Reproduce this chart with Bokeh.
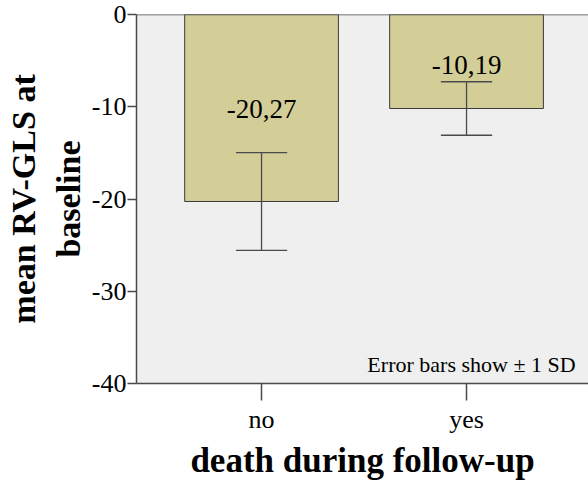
from bokeh.plotting import figure
from bokeh.models import FixedTicker, Range1d, Span, Label, ColumnDataSource
from bokeh.embed import file_html
from bokeh.resources import INLINE
from bokeh.core.properties import value

categories = ["no", "yes"]
means = [-20.27, -10.19]
sds = [5.3, 2.9]
mean_labels = ["-20,27", "-10,19"]
label_y = [-10.2, -5.5]
y_ticks = [0, -10, -20, -30, -40]

FONT = "'Liberation Serif'"
xpos = [1, 2]
cap = 0.125
src = ColumnDataSource(dict(
    x=xpos, top=[0, 0], bottom=means,
    upper=[m + s for m, s in zip(means, sds)],
    lower=[m - s for m, s in zip(means, sds)],
    x0=[x - cap for x in xpos], x1=[x + cap for x in xpos],
    lab=mean_labels, laby=label_y,
))

p = figure(width=588, height=483, output_backend="svg", toolbar_location=None,
           x_range=Range1d(0.39, 2.595), y_range=Range1d(-40, 0),
           min_border_left=136, min_border_right=0, min_border_top=14, min_border_bottom=100)
p.background_fill_color = "#efefef"
p.border_fill_color = "white"
p.outline_line_color = None
p.grid.visible = False

p.vbar(x="x", top="top", bottom="bottom", width=0.75, source=src,
       fill_color="#d3ce97", line_color="#3a3a3a", line_width=1)

ec = "#4a4a4a"
p.segment(x0="x", y0="upper", x1="x", y1="lower", source=src, line_color=ec, line_width=1.3)
p.segment(x0="x0", y0="upper", x1="x1", y1="upper", source=src, line_color=ec, line_width=1.3)
p.segment(x0="x0", y0="lower", x1="x1", y1="lower", source=src, line_color=ec, line_width=1.3)

p.text(x="x", y="laby", text="lab", source=src, text_align="center", text_baseline="middle",
       text_font=value(FONT), text_font_size="27px", text_color="black")

p.add_layout(Span(location=0, dimension="width", line_color=ec, line_width=1.5))

p.add_layout(Label(x=2.532, y=-37.96, text="Error bars show \u00b1 1 SD", text_align="right",
                   text_baseline="middle", text_font=FONT, text_font_size="22px",
                   text_color="black"))

for ax in (p.xaxis[0], p.yaxis[0]):
    ax.axis_line_color = ec
    ax.axis_line_width = 1.5
    ax.major_tick_line_color = ec
    ax.major_tick_line_width = 1.5
    ax.minor_tick_line_color = None
    ax.major_tick_in = 0
    ax.major_label_text_font = FONT
    ax.major_label_text_color = "black"
    ax.axis_label_text_font = FONT
    ax.axis_label_text_font_style = "bold"
    ax.axis_label_text_color = "black"

p.xaxis.ticker = FixedTicker(ticks=xpos)
p.xaxis.major_label_overrides = {1: categories[0], 2: categories[1]}
p.xaxis.major_tick_out = 17
p.xaxis.major_label_text_font_size = "26px"
p.xaxis.major_label_standoff = 4
p.xaxis.axis_label = "death during follow-up"
p.xaxis.axis_label_text_font_size = "35px"
p.xaxis.axis_label_standoff = 4

p.yaxis.ticker = FixedTicker(ticks=y_ticks)
p.yaxis.major_label_overrides = {t: str(t) for t in y_ticks}
p.yaxis.major_tick_out = 9
p.yaxis.major_label_text_font_size = "26px"
p.yaxis.major_label_standoff = 1
p.yaxis.axis_label = "mean RV-GLS at\nbaseline"
p.yaxis.axis_label_text_font_size = "34px"
p.yaxis.axis_label_standoff = 2

open("out.html", "w").write(file_html(p, INLINE))
